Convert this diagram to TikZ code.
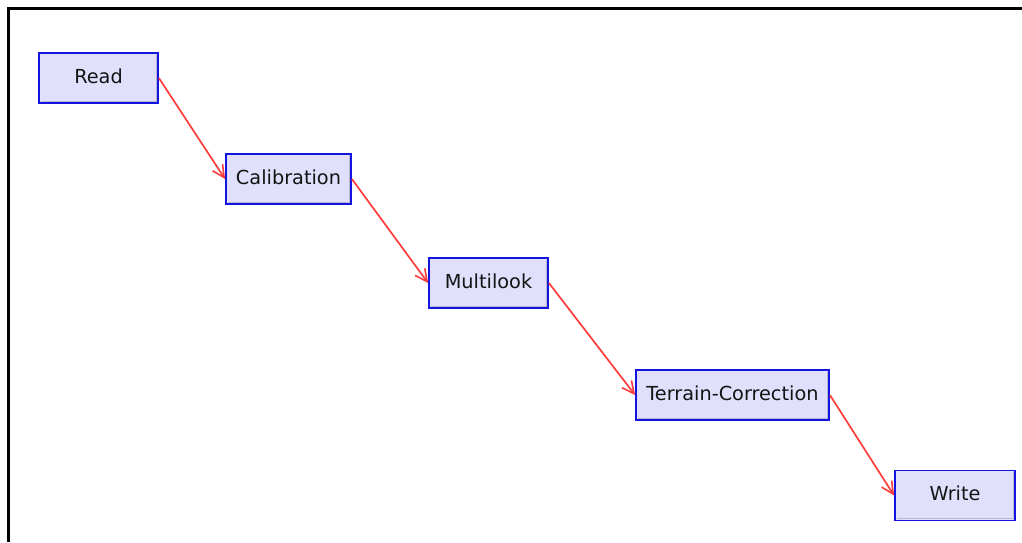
\documentclass[tikz,border=0pt]{standalone}
\usepackage{fontspec}
\setmainfont{DejaVu Sans}
\usetikzlibrary{arrows.meta}
\definecolor{boxfill}{RGB}{224,224,252}
\definecolor{boxline}{RGB}{20,20,225}
\definecolor{flowred}{RGB}{255,60,60}
\definecolor{boxshade}{RGB}{185,185,205}
\definecolor{labeltext}{RGB}{20,20,20}
\tikzset{
  opbox/.style={draw=boxline, fill=boxfill, line width=1.8pt, rectangle,
    minimum height=50pt, inner sep=0pt, text=labeltext,
    text height=14pt, text depth=4pt,
    font=\fontsize{19.3}{23}\selectfont,
    path picture={\draw[boxshade, line width=0.9pt]
      ([xshift=1.5pt,yshift=1.8pt]path picture bounding box.south west) --
      ([xshift=-1.8pt,yshift=1.8pt]path picture bounding box.south east) --
      ([xshift=-1.8pt,yshift=-1.5pt]path picture bounding box.north east);}},
  flow/.style={draw=flowred, line width=1.7pt,
    -{Straight Barb[length=12pt,width=12pt,line width=1.6pt]}},
  frameline/.style={draw=black, line width=2.6pt}
}
\begin{document}
\begin{tikzpicture}[x=1pt,y=-1pt]
  \useasboundingbox (0,0) rectangle (1022,542);
  % partial frame: top and left edges
  \coordinate (ftr) at (1022,8.3);
  \coordinate (ftl) at (8.3,8.3);
  \coordinate (fbl) at (8.3,542);
  \draw[frameline] (ftr) -- (ftl) -- (fbl);

  % processing steps
  \node[opbox, minimum width=119pt] (read)    at (98.5,78)   {Read};
  \node[opbox, minimum width=125pt] (calib)   at (288.5,179) {Calibration};
  \node[opbox, minimum width=119pt] (multi)   at (488.5,283) {Multilook};
  \node[opbox, minimum width=193pt] (terrain) at (732.5,395) {Terrain-Correction};
  \node[opbox, minimum width=120pt] (write)   at (955,495.5) {Write};

  % data flow
  \draw[flow] (read.east) -- (calib.west);
  \draw[flow] (calib.east) -- (multi.west);
  \draw[flow] (multi.east) -- (terrain.west);
  \draw[flow] (terrain.east) -- (write.west);
\end{tikzpicture}
\end{document}
